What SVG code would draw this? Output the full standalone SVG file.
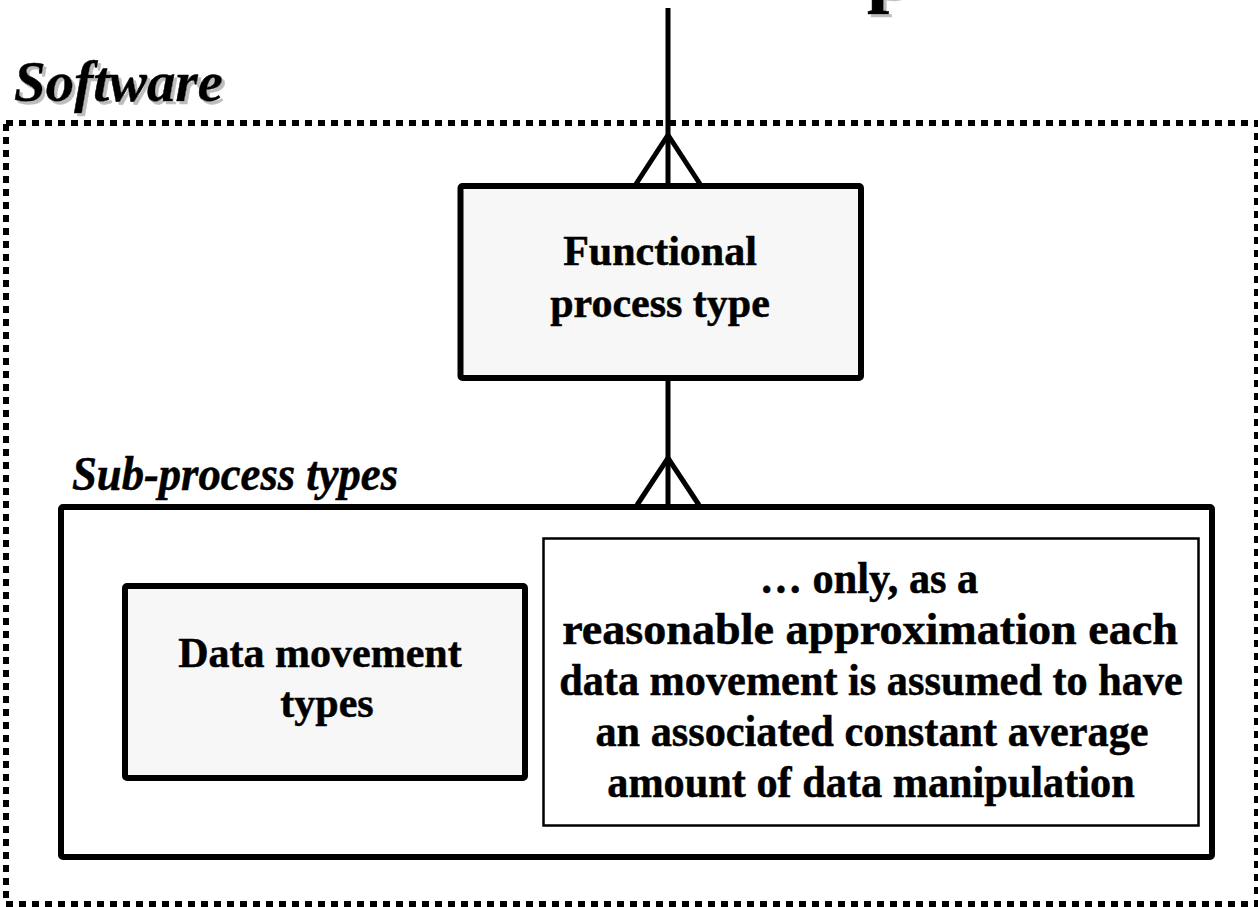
<svg xmlns="http://www.w3.org/2000/svg" width="1258" height="907" viewBox="0 0 1258 907">
  <defs>
    <!-- soft grey offset copy behind heading letters -->
    <filter id="dropShadow" x="-10%" y="-10%" width="130%" height="140%">
      <feOffset in="SourceAlpha" dx="3" dy="3" result="off"/>
      <feFlood flood-color="#bdbdbd"/>
      <feComposite in2="off" operator="in" result="shade"/>
      <feMerge>
        <feMergeNode in="shade"/>
        <feMergeNode in="SourceGraphic"/>
      </feMerge>
    </filter>
  </defs>
  <style>
    .serif { font-family: "Liberation Serif", "Times New Roman", serif; font-weight: bold; fill: #000; stroke: #000; stroke-width: 0.5; }
    .title { font-style: italic; }
    .node { stroke: #000; stroke-width: 6; stroke-linejoin: round; }
    .grey { fill: #f7f7f7; }
    .link { fill: none; stroke: #000; stroke-width: 5; stroke-linecap: butt; stroke-linejoin: miter; }
    .boundary { fill: none; stroke: #000; stroke-width: 6; stroke-dasharray: 7 6; }
  </style>

  <rect width="1258" height="907" fill="#fff"/>

  <!-- large heading glyph running off the top edge -->
  <g id="heading" filter="url(#dropShadow)">
    <text class="serif" x="867" y="-3" font-size="80">p</text>
  </g>

  <!-- software boundary -->
  <g id="software">
    <rect class="boundary" x="6" y="123" width="1251" height="781"/>
    <text class="serif title" x="14" y="101" font-size="57" filter="url(#dropShadow)">Software</text>
  </g>

  <!-- connectors with crow's-foot ends -->
  <g id="connectors">
    <line class="link" x1="668" y1="8" x2="668" y2="184" stroke-linecap="round"/>
    <path class="link" d="M636,184 L668,135 L700,184"/>
    <line class="link" x1="668" y1="380" x2="668" y2="505"/>
    <path class="link" d="M637,505 L668,458 L699,505"/>
  </g>

  <g id="functional-process">
    <rect class="node grey" x="460.5" y="186" width="400.5" height="192" rx="2"/>
    <text class="serif" x="660" y="265" font-size="42" text-anchor="middle">Functional</text>
    <text class="serif" x="660" y="317" font-size="42" text-anchor="middle">process type</text>
  </g>

  <g id="sub-process">
    <text class="serif title" x="72" y="490" font-size="48" textLength="326" lengthAdjust="spacingAndGlyphs">Sub-process types</text>
    <rect class="node" x="61" y="507" width="1151" height="350" rx="2" fill="#fff"/>
  </g>

  <g id="data-movement">
    <rect class="node grey" x="125" y="586" width="400" height="192" rx="2"/>
    <text class="serif" x="320" y="667" font-size="42" text-anchor="middle">Data movement</text>
    <text class="serif" x="327" y="717" font-size="42" text-anchor="middle">types</text>
  </g>

  <g id="assumption-note">
    <rect x="543.5" y="538.5" width="655" height="287" fill="#fff" stroke="#000" stroke-width="2.5"/>
    <g class="serif" font-size="45" text-anchor="middle">
      <text transform="translate(869,593) scale(0.94,1)">… only, as a</text>
      <text transform="translate(870,644) scale(0.94,1)" textLength="655" lengthAdjust="spacingAndGlyphs">reasonable approximation each</text>
      <text transform="translate(871,695) scale(0.94,1)">data movement is assumed to have</text>
      <text transform="translate(872,746) scale(0.94,1)">an associated constant average</text>
      <text transform="translate(871,797) scale(0.94,1)">amount of data manipulation</text>
    </g>
  </g>
</svg>
